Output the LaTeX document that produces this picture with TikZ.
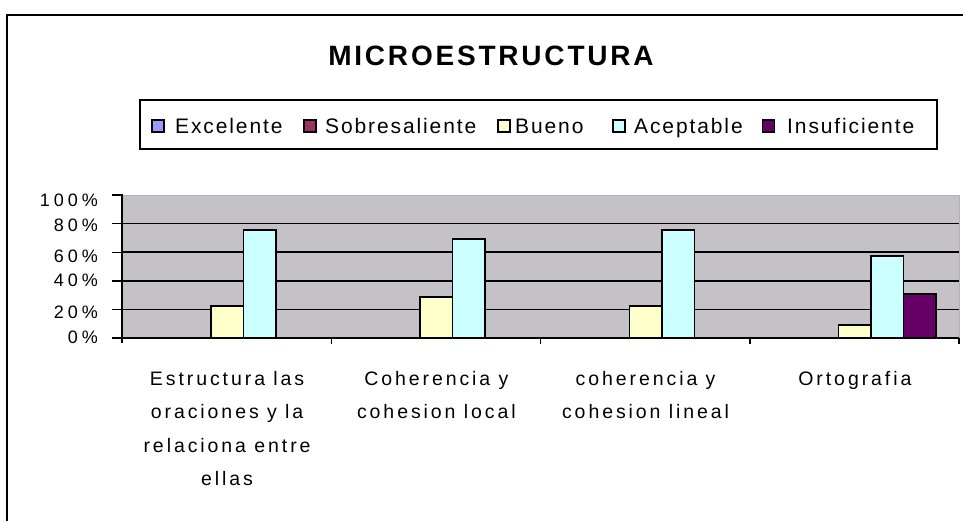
\documentclass[tikz,border=0pt]{standalone}
\usepackage{fontspec}
\setmainfont{Liberation Sans}
\newfontfamily\titlefont[LetterSpace=10]{Liberation Sans}
\newfontfamily\legfont[LetterSpace=9]{Liberation Sans}
\newfontfamily\catfont[LetterSpace=15]{Liberation Sans}
\newfontfamily\axfont[LetterSpace=22]{Liberation Sans}
\definecolor{cExc}{RGB}{153,153,255}
\definecolor{cSob}{RGB}{153,51,102}
\definecolor{cBue}{RGB}{255,255,204}
\definecolor{cAce}{RGB}{204,255,255}
\definecolor{cIns}{RGB}{102,0,102}
\definecolor{plotbg}{RGB}{196,194,198}
\begin{document}
\begin{tikzpicture}[x=1pt,y=-1pt,
  bar/.style={draw=black,line width=1.4pt},
  grid/.style={draw=black,line width=1.6pt},
  axis/.style={draw=black,line width=1.4pt},
  legsq/.style={draw=black,line width=1.2pt,minimum size=12pt,inner sep=0pt},
  legtxt/.style={anchor=base west,inner sep=0pt,font=\legfont\fontsize{21}{24}\selectfont},
  ylab/.style={anchor=east,inner sep=0pt,font=\axfont\fontsize{18}{20}\selectfont},
  catlab/.style={anchor=north,inner sep=0pt,align=center,font=\catfont\fontsize{19.5}{33.5}\selectfont}]
\useasboundingbox (0,0) rectangle (963,520);
\fill[white] (0,0) rectangle (963,520);
% outer frame
\draw[line width=2pt] (7,522) -- (7,15) -- (965,15);
% title
\node[inner sep=0pt,anchor=base,font=\titlefont\bfseries\fontsize{28}{30}\selectfont] (title) at (491,65) {MICROESTRUCTURA};
% legend
\node[draw=black,line width=1.6pt,minimum width=797pt,minimum height=49pt,inner sep=0pt] (legend) at (538.5,124.5) {};
\node[legsq,fill=cExc] (sqExc) at (158,126) {};
\node[legtxt] (tExc) at (175,133) {Excelente};
\node[legsq,fill=cSob] (sqSob) at (310,126) {};
\node[legtxt] (tSob) at (325,133) {Sobresaliente};
\node[legsq,fill=cBue] (sqBue) at (504,126) {};
\node[legtxt] (tBue) at (515,133) {Bueno};
\node[legsq,fill=cAce] (sqAce) at (619,126) {};
\node[legtxt] (tAce) at (634,133) {Aceptable};
\node[legsq,fill=cIns] (sqIns) at (768.5,126) {};
\node[legtxt] (tIns) at (787,133) {Insuficiente};
% plot area
\fill[plotbg] (122,195) rectangle (959,338);
\draw[gray!60,line width=0.8pt] (122,195) -- (959,195) -- (959,338);
\foreach \yy in {223.6,252.2,280.8,309.4} {\draw[grid] (122,\yy) -- (959,\yy);}
% bars: category centers 227.1, 436.4, 645.6, 854.9 ; bar width 32.5 ; 0% at 338
% cat 1
\filldraw[bar,fill=cBue] (210.9,338) rectangle (243.4,306);
\filldraw[bar,fill=cAce] (243.4,338) rectangle (275.9,230);
% cat 2
\filldraw[bar,fill=cBue] (420.1,338) rectangle (452.6,297);
\filldraw[bar,fill=cAce] (452.6,338) rectangle (485.1,239);
% cat 3
\filldraw[bar,fill=cBue] (629.4,338) rectangle (661.9,306);
\filldraw[bar,fill=cAce] (661.9,338) rectangle (694.4,230);
% cat 4
\filldraw[bar,fill=cBue] (838.6,338) rectangle (871.1,325);
\filldraw[bar,fill=cAce] (871.1,338) rectangle (903.6,256);
\filldraw[bar,fill=cIns] (903.6,338) rectangle (936.1,294);
% axes
\draw[axis] (122,193.5) -- (122,343);
\draw[axis] (121.3,338) -- (959,338);
\foreach \yy in {195,223.6,252.2,280.8,309.4,338} {\draw[axis] (112,\yy) -- (122,\yy);}
\foreach \xx in {331.3,540.5,749.8,959} {\draw[axis] (\xx,338) -- (\xx,344);}
% y labels
\node[ylab] (y100) at (98,200) {100\%};
\node[ylab] (y80) at (98,225) {80\%};
\node[ylab] (y60) at (98,256) {60\%};
\node[ylab] (y40) at (98,280) {40\%};
\node[ylab] (y20) at (98,312) {20\%};
\node[ylab] (y0) at (98,337) {0\%};
% category labels
\node[catlab] (c1) at (227.1,371) {Estructura las\\oraciones y la\\relaciona entre\\ellas};
\node[catlab] (c2) at (436.4,371) {Coherencia y\\cohesion local};
\node[catlab] (c3) at (645.6,371) {coherencia y\\cohesion lineal};
\node[catlab] (c4) at (854.9,371) {Ortografia};
\end{tikzpicture}
\end{document}
